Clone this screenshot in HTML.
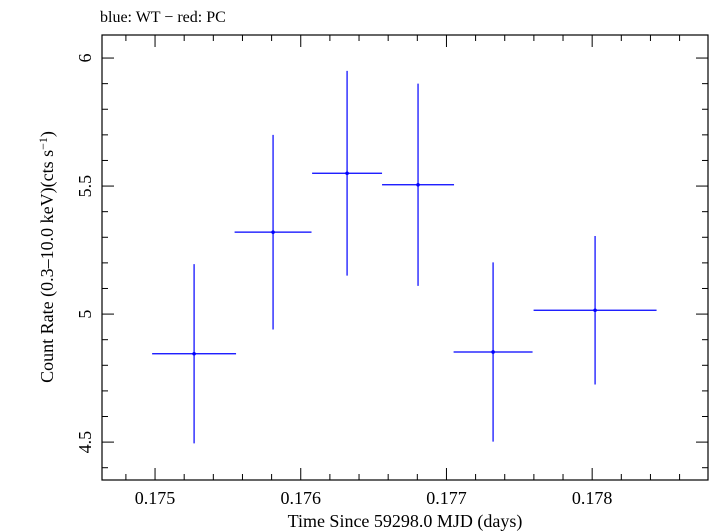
<!DOCTYPE html>
<html><head><meta charset="utf-8"><style>
body{margin:0;background:#fff}
svg{display:block;font-family:"Liberation Serif",serif}
</style></head><body>
<svg id="chart" width="709" height="532">
<text x="100" y="22" font-size="16">blue: WT − red: PC</text>
<rect x="102" y="35" width="606" height="445" fill="none" stroke="#000" stroke-width="1.2"/>
<g id="axes"></g>
<g id="marks"></g>
<text x="405" y="527" font-size="18" text-anchor="middle">Time Since 59298.0 MJD (days)</text>
<text transform="translate(53,257) rotate(-90)" font-size="18" text-anchor="middle">Count Rate (0.3–10.0 keV)(cts s<tspan dy="-6" font-size="12">−1</tspan><tspan dy="6">)</tspan></text>
</svg>
<script>
const times=[0.175268,0.17581,0.176318,0.176805,0.17732,0.17802];
const timeErr=[0.000288,0.000264,0.00024,0.000247,0.000271,0.000422];
const rates=[4.845,5.32,5.55,5.505,4.852,5.015];
const rateErr=[0.35,0.38,0.40,0.395,0.35,0.29];
const xTicks=[0.175,0.176,0.177,0.178];
const yTicks=[4.5,5,5.5,6];
const X0=102,X1=708,Y0=35,Y1=480;
const xMin=0.174636,xMax=0.178795,yMin=4.352,yMax=6.090;
const sx=v=>X0+(v-xMin)/(xMax-xMin)*(X1-X0);
const sy=v=>Y1-(v-yMin)/(yMax-yMin)*(Y1-Y0);
const NS="http://www.w3.org/2000/svg";
const axes=document.getElementById('axes'),marks=document.getElementById('marks');
function mk(p,tag,a){const e=document.createElementNS(NS,tag);for(const k in a)e.setAttribute(k,a[k]);p.appendChild(e);return e;}
for(let i=-2;i<=20;i++){const v=0.175+i*0.0002;const x=sx(v);if(x<X0||x>X1)continue;const L=(i%5===0)?12:6;
const t=mk(axes,'line',{x1:x,x2:x,y1:Y1,y2:Y1-L,stroke:'#000'});


const t2=mk(axes,'line',{x1:x,x2:x,y1:Y0,y2:Y0+L,stroke:'#000'});

}
for(let i=-2;i<=17;i++){const v=4.5+i*0.1;const y=sy(v);if(y<Y0||y>Y1)continue;const L=(i%5===0)?12:6;
const t=mk(axes,'line',{x1:X0,x2:X0+L,y1:y,y2:y,stroke:'#000'});


const t2=mk(axes,'line',{x1:X1,x2:X1-L,y1:y,y2:y,stroke:'#000'});

}
xTicks.forEach(v=>{const t=mk(axes,'text',{x:sx(v),y:504,'font-size':18,'text-anchor':'middle'});t.textContent=v.toFixed(3);

});
yTicks.forEach(v=>{const y=sy(v);const t=mk(axes,'text',{transform:`translate(91,${y}) rotate(-90)`,'font-size':18,'text-anchor':'middle'});t.textContent=String(v);

});
times.forEach((t,i)=>{const g=mk(marks,'g',{stroke:'#0000ff','stroke-width':1.2});


mk(g,'line',{x1:sx(t-timeErr[i]),x2:sx(t+timeErr[i]),y1:sy(rates[i]),y2:sy(rates[i])});
mk(g,'line',{x1:sx(t),x2:sx(t),y1:sy(rates[i]-rateErr[i]),y2:sy(rates[i]+rateErr[i])});
mk(g,'circle',{cx:sx(t),cy:sy(rates[i]),r:1.8,fill:'#0000ff',stroke:'none'});});
</script>
</body></html>
